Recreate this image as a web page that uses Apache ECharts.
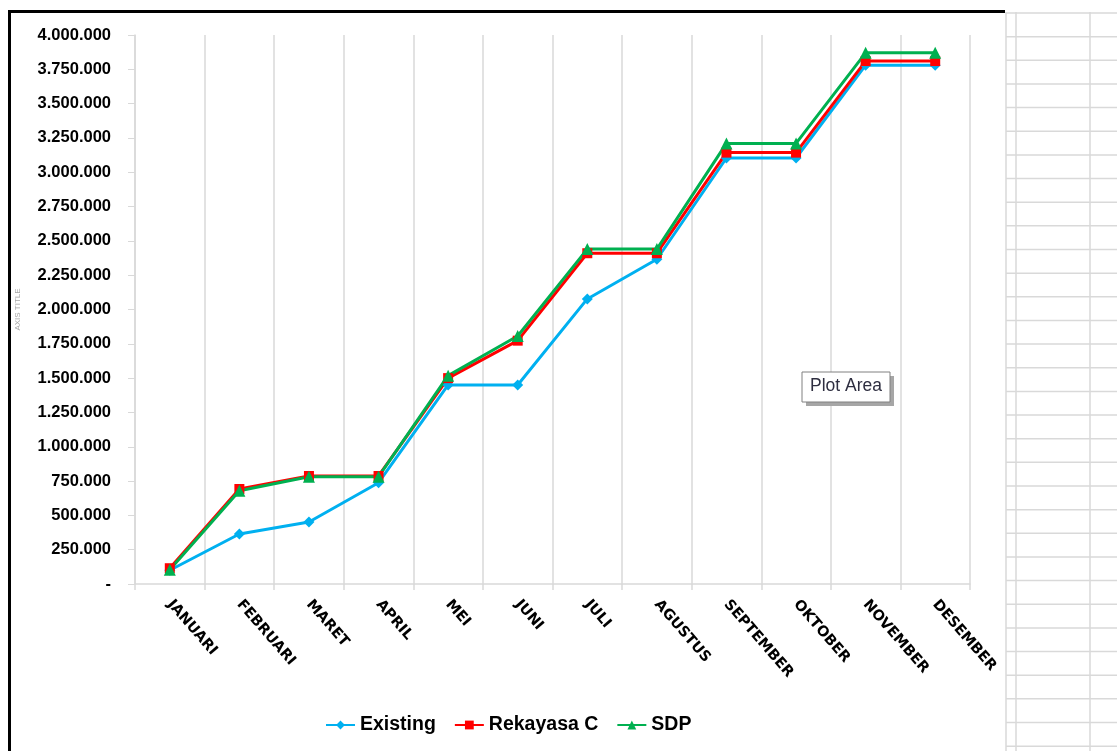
<!DOCTYPE html>
<html>
<head>
<meta charset="utf-8">
<script src="https://cdn.jsdelivr.net/npm/echarts@6/dist/echarts.min.js"></script>
<style>
  html, body { margin: 0; padding: 0; background: #fff; }
  #chart { width: 1117px; height: 751px; }
</style>
</head>
<body>
<div id="chart"></div>
<script>
// bulan
const months = ["JANUARI", "FEBRUARI", "MARET", "APRIL", "MEI", "JUNI",
  "JULI", "AGUSTUS", "SEPTEMBER", "OKTOBER", "NOVEMBER", "DESEMBER"];

// nilai tiap seri
const existing = [100000, 364000, 452000, 738000, 1450000, 1450000,
  2077000, 2366000, 3104000, 3104000, 3780000, 3780000];
const rekayasaC = [115000, 692000, 787000, 787000, 1500000, 1773000,
  2410000, 2410000, 3143000, 3143000, 3810000, 3810000];
const sdp = [103000, 680000, 782000, 782000, 1518000, 1807000,
  2440000, 2440000, 3210000, 3210000, 3870000, 3870000];

const yMin = 0;
const yMax = 4000000;
const yStep = 250000;

const chart = echarts.init(document.getElementById("chart"));

// format angka gaya excel: titik sebagai pemisah ribuan, nol jadi "-"
const fmt = (v) => (v === 0 ? "-" : String(v).replace(/\B(?=(\d{3})+(?!\d))/g, "."));

// garis-garis sel spreadsheet di sebelah kanan
const sheetLines = [];
[1006, 1016, 1090].forEach((x) => {
  sheetLines.push({
    type: "line", silent: true,
    shape: { x1: x, y1: 12, x2: x, y2: 751 },
    style: { stroke: "#d9d9d9", lineWidth: 1.5 },
  });
});
for (let y = 13; y < 751; y += 23.65) {
  sheetLines.push({
    type: "line", silent: true,
    shape: { x1: 1006, y1: y, x2: 1117, y2: y },
    style: { stroke: "#d9d9d9", lineWidth: 1.5 },
  });
}

const series = [
  { name: "Existing", data: existing, color: "#00b0f0", symbol: "diamond", symbolSize: 11 },
  { name: "Rekayasa C", data: rekayasaC, color: "#ff0000", symbol: "rect", symbolSize: 10 },
  { name: "SDP", data: sdp, color: "#00b050", symbol: "triangle", symbolSize: 12 },
].map((s) => ({
  name: s.name,
  type: "line",
  data: s.data,
  symbol: s.symbol,
  symbolSize: s.symbolSize,
  showAllSymbol: true,
  lineStyle: { color: s.color, width: 3 },
  itemStyle: { color: s.color },
  animation: false,
}));

const options = {
  animation: false,
  grid: { left: 135, top: 35, right: 147, bottom: 167, containLabel: false },
  legend: {
    left: 320,
    top: 708,
    itemWidth: 29,
    itemHeight: 11,
    itemGap: 18,
    textStyle: {
      fontFamily: "Liberation Sans",
      fontWeight: "bold",
      fontSize: 19.5,
      color: "#000",
      lineHeight: 24,
    },
    data: ["Existing", "Rekayasa C", "SDP"],
  },
  xAxis: {
    type: "category",
    data: months,
    boundaryGap: true,
    axisLine: { lineStyle: { color: "#d9d9d9", width: 1.5 } },
    axisTick: { show: true, length: 6, lineStyle: { color: "#d9d9d9", width: 1.5 } },
    splitLine: { show: true, lineStyle: { color: "#d9d9d9", width: 1.5 } },
    axisLabel: {
      interval: 0,
      rotate: -49,
      margin: 18,
      fontFamily: "DejaVu Sans",
      fontWeight: "bold",
      fontSize: 14.5,
      color: "#000",
    },
  },
  yAxis: {
    type: "value",
    min: yMin,
    max: yMax,
    interval: yStep,
    name: "AXIS TITLE",
    nameLocation: "middle",
    nameGap: 113,
    nameRotate: 90,
    nameTextStyle: { fontFamily: "Liberation Sans", fontSize: 8, color: "#a6a6a6" },
    axisLine: { show: true, lineStyle: { color: "#d9d9d9", width: 1.5 } },
    axisTick: { show: true, length: 7, lineStyle: { color: "#d9d9d9", width: 1 } },
    splitLine: { show: false },
    axisLabel: {
      margin: 24,
      formatter: fmt,
      fontFamily: "Liberation Sans",
      fontWeight: "bold",
      fontSize: 16.5,
      color: "#000",
    },
  },
  series: series,
  graphic: [
    ...sheetLines,
    // bingkai hitam area chart
    {
      type: "line", silent: true,
      shape: { x1: 8, y1: 11.5, x2: 1005, y2: 11.5 },
      style: { stroke: "#000", lineWidth: 3 },
    },
    {
      type: "line", silent: true,
      shape: { x1: 9.5, y1: 10, x2: 9.5, y2: 751 },
      style: { stroke: "#000", lineWidth: 3 },
    },
    // tooltip "Plot Area" dari excel
    {
      type: "rect", silent: true, z: 100,
      shape: { x: 806, y: 376, width: 88, height: 30 },
      style: { fill: "#a6a6a6" },
    },
    {
      type: "rect", silent: true, z: 101,
      shape: { x: 802, y: 372, width: 88, height: 30 },
      style: { fill: "#fff", stroke: "#808080", lineWidth: 1 },
    },
    {
      type: "text", silent: true, z: 102,
      left: 810, top: 377,
      style: { text: "Plot Area", fontFamily: "Liberation Sans Narrow, Liberation Sans", fontSize: 17.5, fill: "#2e2e40" },
    },
  ],
};

chart.setOption(options);
</script>
</body>
</html>
